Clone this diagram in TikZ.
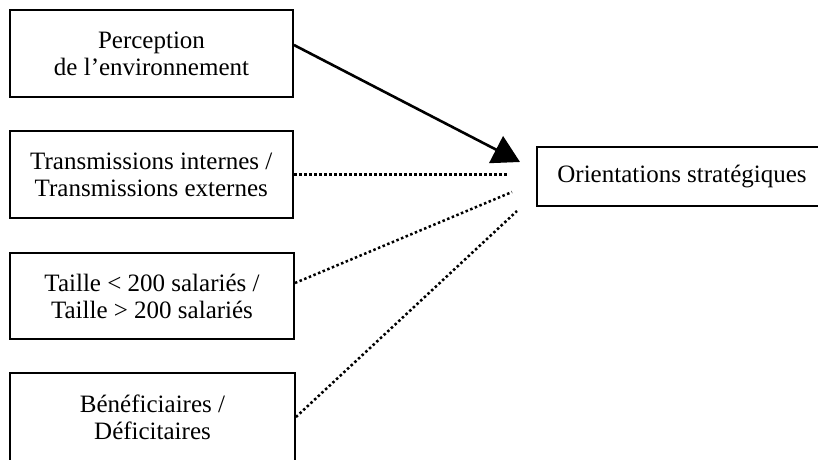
\documentclass[tikz,border=0pt]{standalone}
\usepackage{fontspec}
\setmainfont{Liberation Serif}
\usetikzlibrary{arrows.meta}
\begin{document}
\begin{tikzpicture}[x=1pt,y=1pt,
  box/.style={draw, line width=1.9pt, rectangle, align=center, inner sep=0pt,
    font=\fontsize{25}{27}\selectfont},
  solidarrow/.style={line width=2.6pt, -{Triangle[length=27pt,width=30pt]}},
  dotline/.style={line width=2.5pt, dash pattern=on 2.5pt off 2.5pt}]
\clip (0,0) rectangle (818,459);
\fill[white] (0,0) rectangle (818,459);
\node[box, minimum width=283pt, minimum height=87pt] (b1) at (151.5,405.5)
  {Perception\\de l’environnement};
\node[box, minimum width=283.5pt, minimum height=87pt] (b2) at (151.3,284.5)
  {Transmissions internes /\\Transmissions externes};
\node[box, minimum width=284pt, minimum height=86pt] (b3) at (152,163)
  {Taille < 200 salariés /\\Taille > 200 salariés};
\node[box, minimum width=285pt, minimum height=88pt] (b4) at (152.5,42)
  {Bénéficiaires /\\Déficitaires};
\node[box, minimum width=290pt, minimum height=59pt] (r) at (682,282.5)
  {Orientations stratégiques};
\coordinate (s1) at ([yshift=8.5pt]b1.east);
\coordinate (t1) at (520,297);
\coordinate (t2) at (508,284.5);
\coordinate (s3) at ([yshift=13pt]b3.east);
\coordinate (t3) at (512,267);
\coordinate (t4) at (517,248);
\draw[solidarrow] (s1) -- (t1);
\draw[dotline] (b2.east) -- (t2);
\draw[dotline] (s3) -- (t3);
\draw[dotline] (b4.east) -- (t4);
\end{tikzpicture}
\end{document}
